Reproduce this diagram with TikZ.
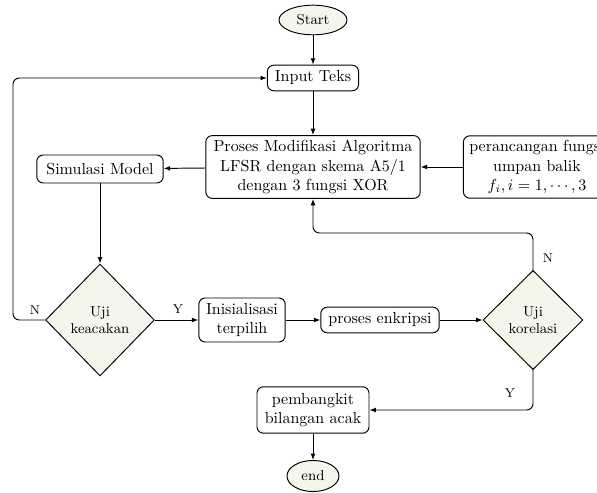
\documentclass[tikz,border=0pt]{standalone}
\usetikzlibrary{shapes.geometric,arrows.meta}
\definecolor{beige}{rgb}{0.96,0.96,0.92}
\begin{document}
\begin{tikzpicture}[x=0.625pt,y=-0.625pt,
  box/.style={draw,rounded corners=4pt,align=center,inner sep=3pt,line width=0.6pt},
  term/.style={draw,ellipse,fill=beige,font=\small,inner sep=1pt,line width=0.6pt},
  dec/.style={draw,diamond,fill=beige,font=\small,align=center,inner sep=0pt,line width=0.6pt},
  arr/.style={-{Latex[length=4pt,width=3pt]},line width=0.6pt},
  lbl/.style={font=\footnotesize}]
\clip (0,0) rectangle (597,493);
\node[term,minimum width=42.5pt,minimum height=18.5pt] (start) at (313,20) {Start};
\node[box,minimum width=57pt,minimum height=16pt] (input) at (313,78) {Input Teks};
\node[box,minimum width=134pt,minimum height=38pt] (proses) at (313,167) {Proses Modifikasi Algoritma\\LFSR dengan skema A5/1\\dengan 3 fungsi XOR};
\node[box,minimum width=79pt,minimum height=17.5pt] (sim) at (100,169) {Simulasi Model};
\node[box,minimum width=92pt,minimum height=34pt] (peranc) at (537,167) {perancangan fungsi\\umpan balik\\$f_i, i=1,\cdots,3$};
\node[dec,minimum width=68pt,minimum height=70pt] (ujik) at (100,320) {Uji\\keacakan};
\node[box,minimum width=54pt,minimum height=27.5pt] (init) at (242,320) {Inisialisasi\\terpilih};
\node[box,minimum width=74pt,minimum height=16pt] (enk) at (380,320) {proses enkripsi};
\node[dec,minimum width=62.5pt,minimum height=62pt] (ujikor) at (533,320) {Uji\\korelasi};
\node[box,minimum width=70pt,minimum height=29pt] (pemb) at (313,410) {pembangkit\\bilangan acak};
\node[term,minimum width=32.5pt,minimum height=19.4pt] (end) at (313,476) {end};
\coordinate (c1) at (13,320);
\coordinate (c2) at (13,78);
\coordinate (c3) at (533,233);
\coordinate (c4) at (313,233);
\coordinate (c5) at (533,410);
\draw[arr] (start) -- (input);
\draw[arr] (input) -- (proses);
\draw[arr] (proses) -- (sim);
\draw[arr] (peranc) -- (proses);
\draw[arr] (sim) -- (ujik);
\draw[arr,rounded corners=4pt] (ujik.west) -- (c1) -- (c2) -- (input.west);
\node[lbl] (ln1) at (35,310) {N};
\draw[arr] (ujik) -- (init);
\node[lbl] (ly1) at (178,309) {Y};
\draw[arr] (init) -- (enk);
\draw[arr] (enk) -- (ujikor);
\draw[arr,rounded corners=4pt] (ujikor.north) -- (c3) -- (c4) -- (proses.south);
\node[lbl] (ln2) at (548,258) {N};
\draw[arr,rounded corners=4pt] (ujikor.south) -- (c5) -- (pemb.east);
\node[lbl] (ly2) at (510,393) {Y};
\draw[arr] (pemb) -- (end);
\end{tikzpicture}
\end{document}
